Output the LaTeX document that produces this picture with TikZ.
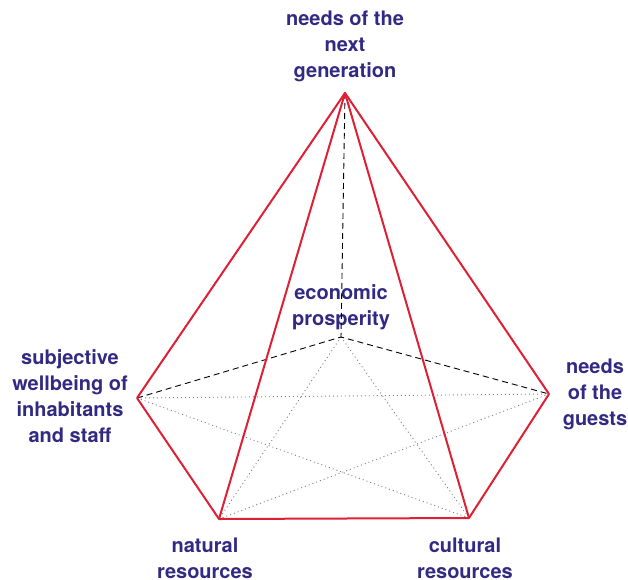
\documentclass[tikz,border=0pt]{standalone}
\usepackage{fontspec}
\setmainfont{TeX Gyre Heros}
\usetikzlibrary{positioning}
\definecolor{labelblue}{RGB}{50,42,130}
\definecolor{edgered}{RGB}{222,32,52}
\tikzset{
  font=\bfseries\fontsize{20}{26}\selectfont,
  % Corner labels
  lbl/.style={text=labelblue, align=center, inner sep=0pt},
  % Visible edges
  front/.style={draw=edgered, line width=2pt, line join=round},
  % Hidden edges
  back/.style={draw=black, dash pattern=on 6pt off 4pt, line width=0.9pt},
  % Diagonals of the base
  diag/.style={draw=gray, dash pattern=on 1pt off 3pt, line width=0.9pt},
}

\begin{document}
\begin{tikzpicture}[x=1pt, y=-1pt]
  \useasboundingbox (0,0) rectangle (628,579);

  % corners of the pyramid
  \coordinate (top) at (345,93);
  \coordinate (mid) at (341,337);
  \coordinate (lft) at (137,398);
  \coordinate (rgt) at (549,394);
  \coordinate (bl) at (219,519);
  \coordinate (br) at (469,518);

  % labels
  \node[lbl] (ltop) at (345,46) {needs of the\\next\\generation};
  \node[lbl] (lmid) at (341,307) {economic\\prosperity};
  \node[lbl] (llft) at (70,396) {subjective\\wellbeing of\\inhabitants\\and staff};
  \node[lbl] (lrgt) at (595,394) {needs\\of the\\guests};
  \node[lbl] (lbl) at (205,558) {natural\\resources};
  \node[lbl] (lbr) at (465,558) {cultural\\resources};

  % base
  \draw[diag] (lft) -- (rgt);
  \draw[diag] (lft) -- (br);
  \draw[diag] (rgt) -- (bl);
  \draw[diag] (mid) -- (bl);
  \draw[diag] (mid) -- (br);
  \draw[back] (top) -- (mid);
  \draw[back] (lft) -- (mid) -- (rgt);

  % outline
  \draw[front] (lft) -- (bl) -- (br) -- (rgt);
  \draw[front] (lft) -- (top) -- (rgt);
  \draw[front] (bl) -- (top) -- (br);
\end{tikzpicture}
\end{document}
